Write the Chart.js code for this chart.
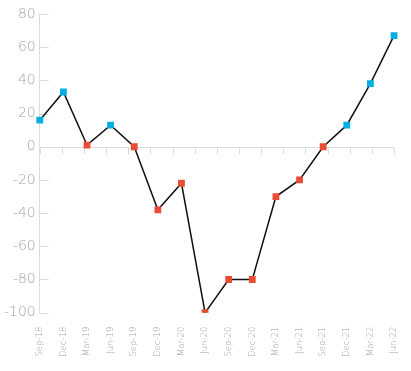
<!DOCTYPE html>
<html>
<head>
<meta charset="utf-8">
<script src="https://cdn.jsdelivr.net/npm/chart.js@4"></script>
<style>
html,body{margin:0;padding:0;background:#fff;}
#wrap{width:411px;height:371px;position:relative;}
</style>
</head>
<body>
<div id="wrap"><canvas id="c" width="411" height="371"></canvas></div>
<script>
const categories = ["Sep-18","Dec-18","Mar-19","Jun-19","Sep-19","Dec-19","Mar-20","Jun-20","Sep-20","Dec-20","Mar-21","Jun-21","Sep-21","Dec-21","Mar-22","Jun-22"];
const values = [16, 33, 1, 13, 0, -38, -22, -100, -80, -80, -30, -20, 0, 13, 38, 67];
const yTicks = [80, 60, 40, 20, 0, -20, -40, -60, -80, -100];

const BLUE = '#00aee6';
const RED = '#e84c35';
const GRID = '#dcdcdc';
const TEXT = '#a4a4a4';

const pointColors = values.map(v => v > 2 ? BLUE : RED);

const axisDecor = {
  id: 'axisDecor',
  beforeDatasetsDraw(chart) {
    const ctx = chart.ctx;
    const y = chart.scales.y;
    const a = chart.chartArea;
    ctx.save();
    ctx.strokeStyle = GRID;
    ctx.lineWidth = 1;
    yTicks.forEach(t => {
      const py = Math.round(y.getPixelForValue(t)) + 0.5;
      ctx.beginPath();
      ctx.moveTo(a.left, py);
      ctx.lineTo(a.left + 9, py);
      ctx.stroke();
    });
    const p0 = Math.round(y.getPixelForValue(0)) + 0.5;
    ctx.beginPath();
    ctx.moveTo(a.left, p0);
    ctx.lineTo(a.right, p0);
    ctx.stroke();
    const n = categories.length;
    for (let i = 0; i <= n; i++) {
      const px = Math.round(a.left + i * (a.right - a.left) / n) + 0.5;
      ctx.beginPath();
      ctx.moveTo(px, p0);
      ctx.lineTo(px, p0 + 7);
      ctx.stroke();
    }
    ctx.restore();
  }
};

new Chart(document.getElementById('c'), {
  type: 'line',
  data: {
    labels: categories,
    datasets: [{
      data: values,
      borderColor: '#111',
      borderWidth: 1.5,
      tension: 0,
      fill: false,
      pointStyle: 'rect',
      pointRadius: 4.8,
      pointHoverRadius: 4.8,
      pointBackgroundColor: pointColors,
      pointBorderColor: pointColors,
      pointBorderWidth: 0
    }]
  },
  options: {
    responsive: false,
    animation: false,
    devicePixelRatio: 1,
    layout: { padding: { top: 14, right: 0, left: 0, bottom: 0 } },
    plugins: { legend: { display: false }, tooltip: { enabled: false } },
    scales: {
      x: {
        offset: false,
        afterFit(scale) { scale.paddingRight = 17; scale.paddingLeft = 0; },
        grid: { display: false, drawTicks: false },
        border: { display: false },
        ticks: {
          color: TEXT,
          font: { family: 'DejaVu Sans', size: 8.5, weight: 200 },
          minRotation: 90,
          maxRotation: 90,
          autoSkip: false,
          padding: 14
        }
      },
      y: {
        min: -100,
        max: 80,
        afterBuildTicks(axis) { axis.ticks = yTicks.map(v => ({ value: v })); },
        grid: { display: false, drawTicks: false },
        border: { display: true, color: GRID, width: 1 },
        ticks: {
          color: TEXT,
          font: { family: 'DejaVu Sans', size: 14, weight: 200 },
          padding: 4
        }
      }
    }
  },
  plugins: [axisDecor]
});
</script>
</body>
</html>
